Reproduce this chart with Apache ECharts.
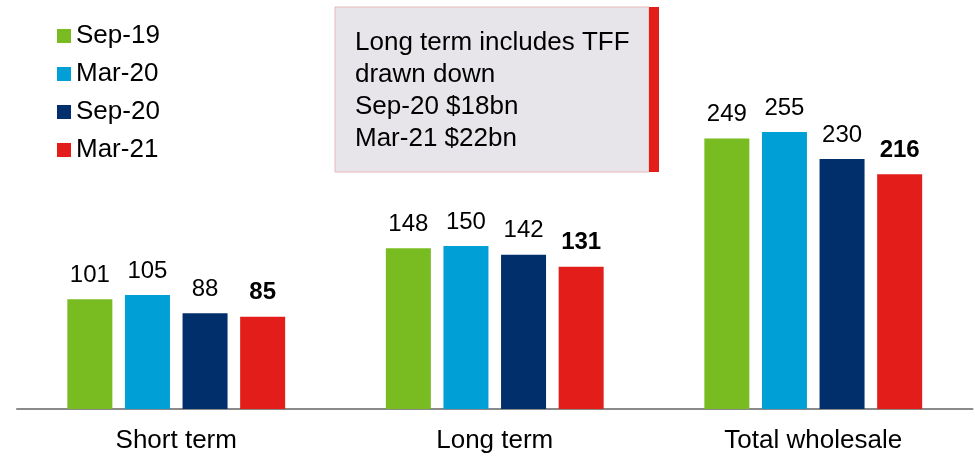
<!DOCTYPE html>
<html>
<head>
<meta charset="utf-8">
<script src="https://cdn.jsdelivr.net/npm/echarts@6/dist/echarts.min.js"></script>
<style>
  html, body { margin: 0; padding: 0; background: #fff; }
  #chart { width: 975px; height: 456px; }
</style>
</head>
<body>
<div id="chart"></div>
<script>
// Wholesale funding balances ($bn) by term
const categories = ['Short term', 'Long term', 'Total wholesale'];
const periods = ['Sep-19', 'Mar-20', 'Sep-20', 'Mar-21'];
const sep19 = [101, 148, 249];
const mar20 = [105, 150, 255];
const sep20 = [88, 142, 230];
const mar21 = [85, 131, 216];
const noteLines = ['Long term includes TFF', 'drawn down', 'Sep-20 $18bn', 'Mar-21 $22bn'];

const colors = ['#78BC22', '#00A0D6', '#002F6C', '#E31D1A'];
const FONT = 'Arial, "Liberation Sans", sans-serif';
const seriesValues = [sep19, mar20, sep20, mar21];

const chart = echarts.init(document.getElementById('chart'));

const series = periods.map((name, i) => ({
  name: name,
  type: 'bar',
  data: seriesValues[i],
  barWidth: 45,
  barGap: '28%',
  itemStyle: { color: colors[i] },
  label: {
    show: true,
    position: 'top',
    distance: 12,
    color: '#000',
    fontFamily: FONT,
    fontSize: 24,
    fontWeight: i === 3 ? 'bold' : 'normal'
  }
}));

chart.setOption({
  animation: false,
  color: colors,
  grid: { left: 17, right: 2.5, top: 83, bottom: 47, containLabel: false },
  legend: {
    orient: 'vertical',
    left: 57,
    top: 23,
    padding: 0,
    itemWidth: 14,
    itemHeight: 14,
    itemGap: 12,
    icon: 'rect',
    textStyle: { color: '#000', fontFamily: FONT, fontSize: 26, lineHeight: 25 },
    data: periods
  },
  xAxis: {
    type: 'category',
    data: categories,
    axisLine: { show: true, lineStyle: { color: '#8a8a8a', width: 2 } },
    axisTick: { show: false },
    axisLabel: { color: '#000', fontFamily: FONT, fontSize: 26, margin: 19 }
  },
  yAxis: {
    type: 'value',
    min: 0,
    max: 300,
    show: false,
    splitLine: { show: false }
  },
  graphic: [
    {
      type: 'rect',
      shape: { x: 335, y: 7, width: 314, height: 165 },
      style: { fill: '#E7E5E9', stroke: '#E6B8BA', lineWidth: 1 },
      z: 10
    },
    {
      type: 'rect',
      shape: { x: 649, y: 7, width: 10, height: 165 },
      style: { fill: '#E31D1A' },
      z: 11
    },
    {
      type: 'text',
      x: 355,
      y: 27,
      style: {
        text: noteLines.join('\n'),
        fill: '#000',
        font: '26px ' + FONT,
        lineHeight: 32,
        verticalAlign: 'top',
        align: 'left'
      },
      z: 12
    }
  ],
  series: series
});
</script>
</body>
</html>
